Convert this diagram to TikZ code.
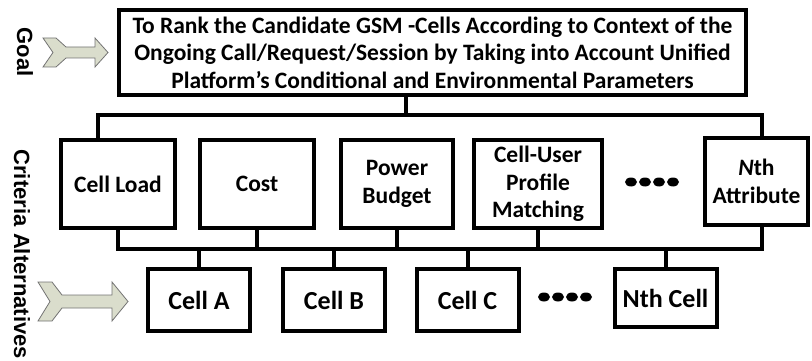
\documentclass[tikz,border=0pt]{standalone}
\usepackage{fontspec}
\setmainfont{Carlito}
\newfontfamily\sidefont{Liberation Sans}
\definecolor{arrowgreen}{RGB}{218,221,204}

\begin{document}
\begin{tikzpicture}[x=1pt, y=-1pt,
    box/.style={draw, line width=4pt, minimum height=88pt, align=center, inner sep=2pt,
      font=\bfseries\fontsize{23.5}{27.5}\selectfont},
    altbox/.style={box, minimum height=62pt, minimum width=102pt,
      font=\bfseries\fontsize{26}{30}\selectfont},
    wire/.style={line width=4pt},
    side/.style={rotate=-90, font=\sidefont\bfseries\fontsize{22}{26}\selectfont},
    chevron/.style={fill=arrowgreen, draw=black!55, line width=0.8pt}]
    \useasboundingbox (0,0) rectangle (812,361);

    % --- Goal ---
    \node[box, minimum width=627pt, minimum height=85pt] (goal) at (432.5,52.5)
      {To Rank the Candidate GSM -Cells According to Context of the\\
       Ongoing Call/Request/Session by Taking into Account Unified\\
       Platform’s Conditional and Environmental Parameters};

    % --- Criteria ---
    \node[box, minimum width=114pt] (load)  at (118,184)   {Cell Load};
    \node[box, minimum width=114pt] (cost)  at (257,184)   {Cost};
    \node[box, minimum width=112pt] (power) at (397,184)   {Power\\Budget};
    \node[box, minimum width=128pt] (user)  at (538,184)   {Cell-User\\Profile\\Matching};
    \node[box, minimum width=103pt, minimum height=87pt] (attr) at (756.5,181.5)
      {\textit{N}th\\Attribute};

    % --- Alternatives ---
    \node[altbox] (cellA) at (199,300)   {Cell A};
    \node[altbox] (cellB) at (334,300)   {Cell B};
    \node[altbox] (cellC) at (467.5,300) {Cell C};
    \node[altbox, minimum height=58pt] (cellN) at (665.5,298) {Nth Cell};

    % bus lines
    \coordinate (busT) at (0,115);
    \coordinate (busB) at (0,249);
    \draw[wire] ([xshift=-27pt]goal.south) -- ([xshift=-27pt]goal.south |- busT);
    \draw[wire] ([xshift=-20pt]load.north) -- ([xshift=-20pt]load.north |- busT)
      -- ([xshift=5.5pt]attr.north |- busT) -- ([xshift=5.5pt]attr.north);
    \draw[wire] (load.south) -- (load.south |- busB)
      -- ([xshift=5.5pt]attr.south |- busB) -- ([xshift=5.5pt]attr.south);
    \foreach \n in {cost,power,user}
      \draw[wire] (\n.south) -- (\n.south |- busB);
    \foreach \n in {cellA,cellB,cellC,cellN}
      \draw[wire] (\n.north) -- (\n.north |- busB);

    % dots
    \foreach \x in {631,645,659,673}
      \fill (\x,182) ellipse (6 and 4.5);
    \foreach \x in {544,558,572,586}
      \fill (\x,297) ellipse (6 and 4.5);

    % level arrows
    \filldraw[chevron] (43,38) -- (56,38) -- (66,47) -- (95,47) -- (95,38) -- (108,52.5)
      -- (95,67) -- (95,58) -- (66,58) -- (56,67) -- (43,67) -- (53,52.5) -- cycle;
    \filldraw[chevron] (38,282) -- (52,282) -- (62,295) -- (112,295) -- (112,282) -- (128,301.5)
      -- (112,321) -- (112,308) -- (62,308) -- (52,321) -- (38,321) -- (50,301.5) -- cycle;

    % level labels
    \node[side] (lgoal) at (25,52)  {Goal};
    \node[side] (lcrit) at (22,188) {Criteria};
    \node[side] (lalt)  at (22,296) {Alternatives};
  \end{tikzpicture}
\end{document}
